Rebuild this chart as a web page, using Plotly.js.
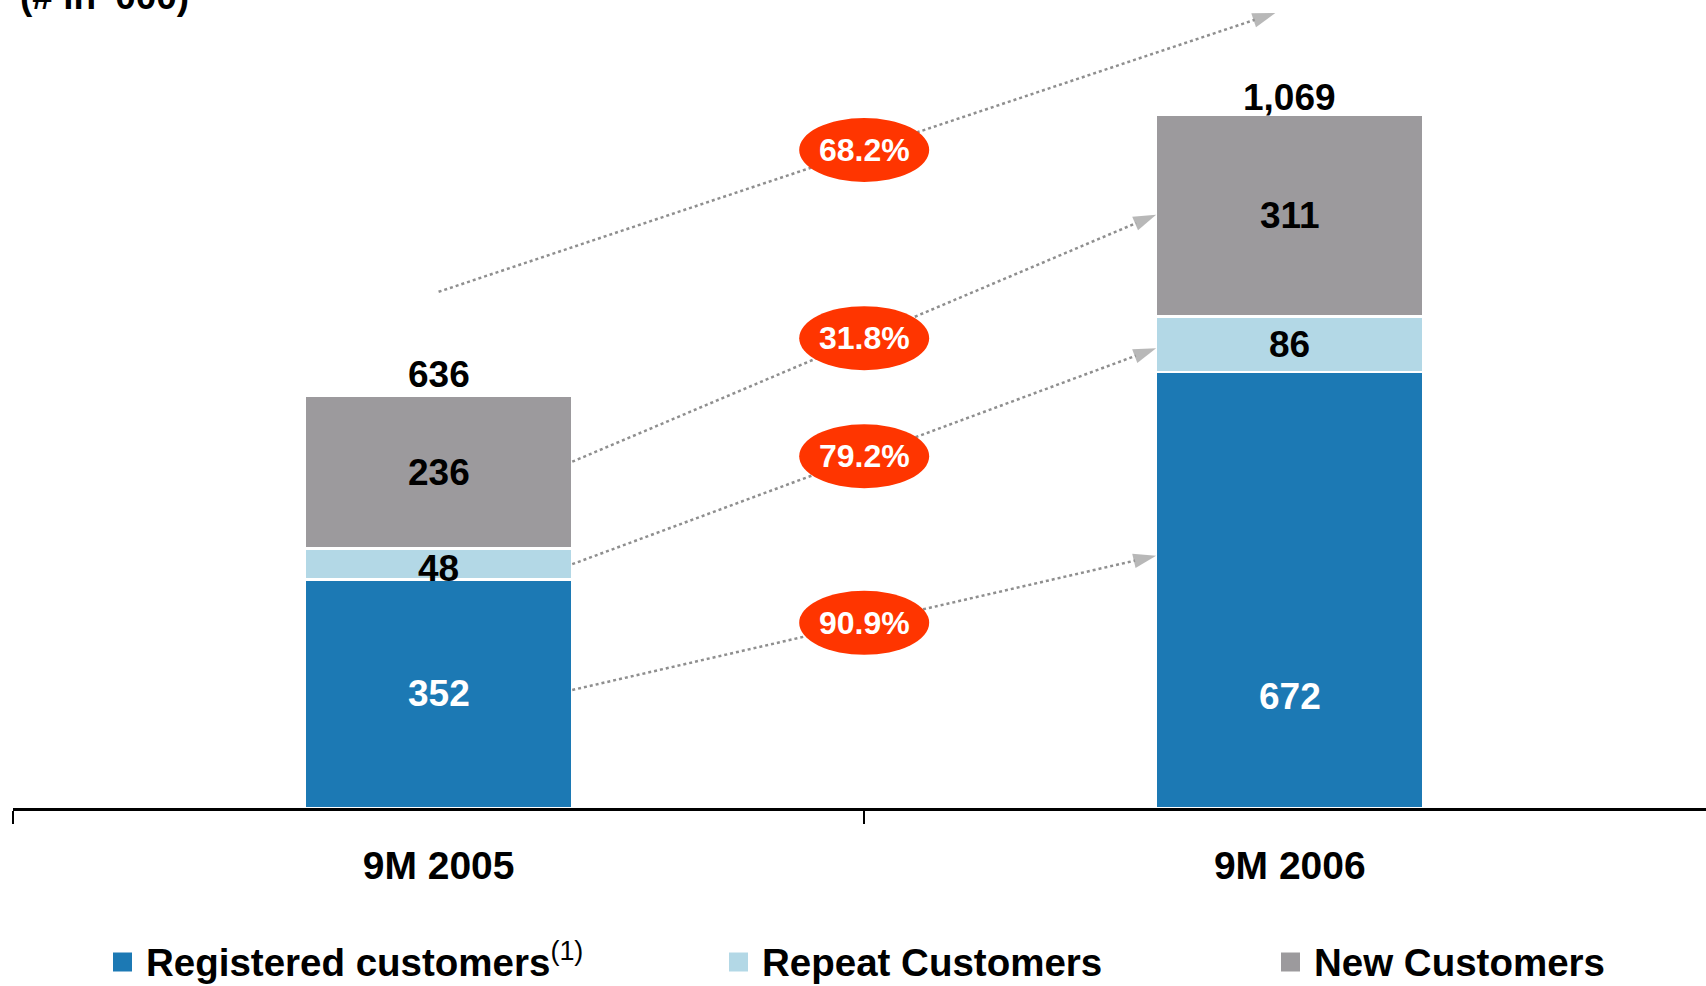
<!DOCTYPE html>
<html>
<head>
<meta charset="utf-8">
<script src="https://cdn.plot.ly/plotly-3.0.1.min.js"></script>
<style>
  html, body { margin: 0; padding: 0; background: #ffffff; }
  #chart { width: 1706px; height: 986px; }
</style>
</head>
<body>
<div id="chart"></div>
<script>
// ---- data ----
const categories = ['9M 2005', '9M 2006'];
const registered = [352, 672];
const repeatCust = [48, 86];
const newCust = [236, 311];
const totalLabels = ['636', '1,069'];
const seriesNames = ['Registered customers', 'Repeat Customers', 'New Customers'];
// growth arrows: registered, repeat, new, total
const growthLabels = ['90.9%', '79.2%', '31.8%', '68.2%'];
const arrowFromY = [182, 376, 534, 796];
const arrowToY = [389, 709, 915, 1226];

// ---- style ----
const FONT = 'Liberation Sans, Arial, Helvetica, sans-serif';
const C_REG = '#1c79b4';
const C_REP = '#b3d8e6';
const C_NEW = '#9c9a9d';
const C_OVAL = '#ff3500';
const C_ARROW = '#8f8f8f';
const BAR_W = 0.314;
const xIdx = categories.map((_, i) => i);
const totals = xIdx.map(i => registered[i] + repeatCust[i] + newCust[i]);

const barCommon = {
  type: 'bar', x: xIdx, width: BAR_W,
  hoverinfo: 'skip', showlegend: false
};
const traces = [
  Object.assign({}, barCommon, { name: seriesNames[0], y: registered, marker: { color: C_REG, line: { color: '#ffffff', width: 2.5 } } }),
  Object.assign({}, barCommon, { name: seriesNames[1], y: repeatCust, marker: { color: C_REP, line: { color: '#ffffff', width: 2.5 } } }),
  Object.assign({}, barCommon, { name: seriesNames[2], y: newCust, marker: { color: C_NEW, line: { color: '#ffffff', width: 2.5 } } })
];

// growth arrows
const arrowX0 = growthLabels.map((_, k) => k < 3 ? BAR_W / 2 : 0);
const arrowX1 = growthLabels.map((_, k) => k < 3 ? 1 - BAR_W / 2 : 0.983);
growthLabels.forEach((lab, k) => {
  traces.push({
    type: 'scatter', mode: 'lines+markers',
    x: [arrowX0[k], arrowX1[k]], y: [arrowFromY[k], arrowToY[k]],
    line: { color: C_ARROW, width: 2.5, dash: 'dot' },
    marker: { symbol: ['circle', 'arrow'], size: [0, 24], angleref: 'previous', color: '#9a9a9a', line: { width: 0 } },
    hoverinfo: 'skip', showlegend: false, cliponaxis: false
  });
});

const annotations = [];
const shapes = [];
const boldFont = (size, color) => ({ family: FONT, size: size, color: color, weight: 'bold' });

// segment labels
xIdx.forEach(i => {
  annotations.push({ x: i, y: registered[0] / 2, text: String(registered[i]), showarrow: false, font: boldFont(37, '#ffffff'), yshift: i === 0 ? 0 : -3 });
  annotations.push({ x: i, y: registered[i] + repeatCust[i] / 2, text: String(repeatCust[i]), showarrow: false, font: boldFont(37, '#000000'), yshift: i === 0 ? -4 : 0 });
  annotations.push({ x: i, y: registered[i] + repeatCust[i] + newCust[i] / 2, text: String(newCust[i]), showarrow: false, font: boldFont(37, '#000000') });
  annotations.push({ x: i, y: totals[i], text: totalLabels[i], showarrow: false, yanchor: 'middle', yshift: i === 0 ? 21 : 17, font: boldFont(37, '#000000') });
});

// growth ovals
growthLabels.forEach((lab, k) => {
  const t = (0.5 - arrowX0[k]) / (arrowX1[k] - arrowX0[k]);
  const yc = arrowFromY[k] + t * (arrowToY[k] - arrowFromY[k]);
  shapes.push({
    type: 'circle', xref: 'x', yref: 'y', xsizemode: 'pixel', ysizemode: 'pixel',
    xanchor: 0.5, yanchor: yc, x0: -65, x1: 65, y0: -32, y1: 32,
    fillcolor: C_OVAL, line: { width: 0 }, layer: 'above'
  });
  annotations.push({ x: 0.5, y: yc, text: lab, showarrow: false, font: boldFont(32, '#ffffff') });
});

// unit title (partly cut off at top in the original)
annotations.push({ xref: 'paper', yref: 'paper', x: 0, y: 1, xanchor: 'left', yanchor: 'bottom', xshift: 5, yshift: -19,
  text: "(# in '000)", showarrow: false, font: boldFont(37, '#000000') });

// legend (manual)
const legendY = -154 / 808;
const legendColors = [C_REG, C_REP, C_NEW];
const legendText = [seriesNames[0] + '<sup><span style="font-weight:normal">(1)</span></sup>', seriesNames[1], seriesNames[2]];
const legendMarkerPx = [100, 716, 1268];
legendColors.forEach((c, k) => {
  shapes.push({ type: 'rect', xref: 'paper', yref: 'paper', xsizemode: 'pixel', ysizemode: 'pixel',
    xanchor: 0, yanchor: legendY, x0: legendMarkerPx[k], x1: legendMarkerPx[k] + 19, y0: -9.5, y1: 9.5,
    fillcolor: c, line: { width: 0 } });
  annotations.push({ xref: 'paper', yref: 'paper', x: 0, y: legendY, xanchor: 'left', yanchor: 'middle',
    xshift: legendMarkerPx[k] + 31, yshift: k === 0 ? 2 : 0, text: legendText[k], showarrow: false, font: boldFont(38.5, '#000000') });
});

const layout = {
  width: 1706, height: 986,
  margin: { l: 13, r: 0, t: 0, b: 178 },
  paper_bgcolor: '#ffffff', plot_bgcolor: '#ffffff',
  barmode: 'stack', showlegend: false,
  font: { family: FONT },
  xaxis: {
    type: 'linear', range: [-0.5, 1.489], fixedrange: true,
    tickvals: xIdx, ticktext: categories, ticks: '',
    tickfont: boldFont(39, '#000000'), ticklabelstandoff: 22,
    showline: true, linecolor: '#000000', linewidth: 2.5,
    showgrid: false, zeroline: false,
    minor: { tickvals: [-0.5, 0.5], ticks: 'outside', ticklen: 13, tickwidth: 2.5, tickcolor: '#000000', showgrid: false }
  },
  yaxis: { range: [0, 1246], visible: false, showgrid: false, zeroline: false, fixedrange: true },
  annotations: annotations,
  shapes: shapes
};

Plotly.newPlot('chart', traces, layout, { displayModeBar: false, staticPlot: true });
</script>
</body>
</html>
